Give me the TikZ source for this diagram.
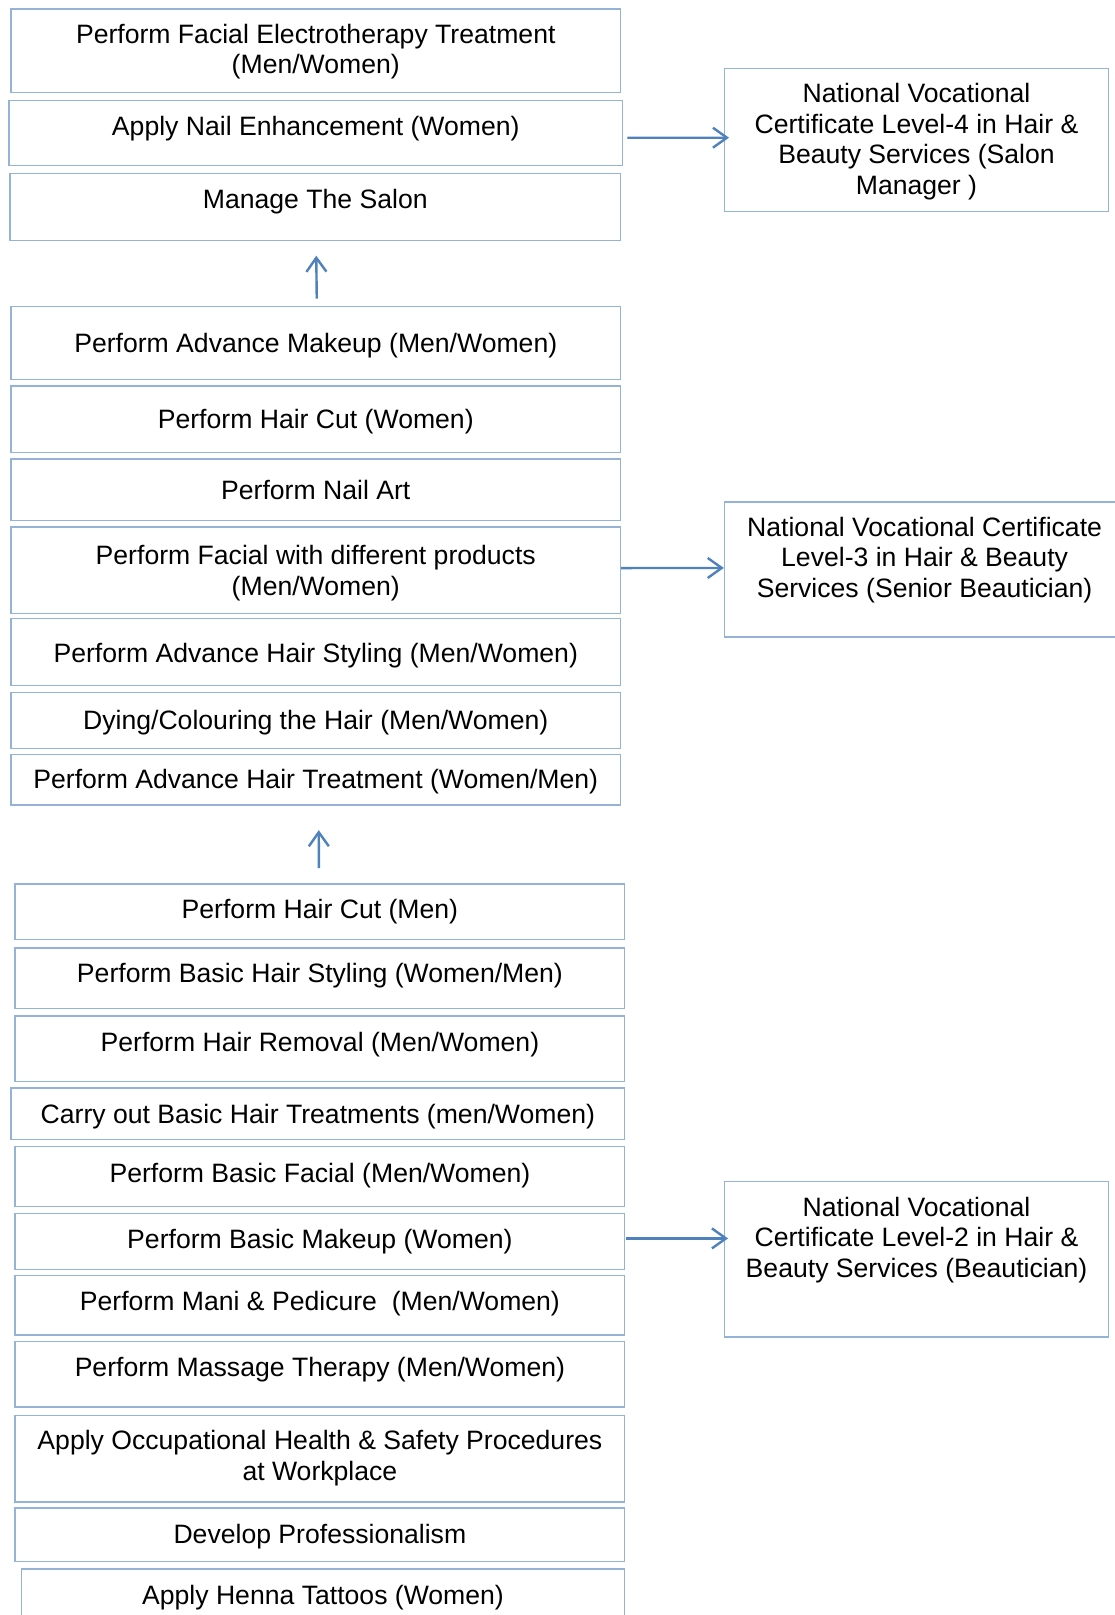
\documentclass[tikz,border=0pt]{standalone}
\usepackage{fontspec}
\setmainfont{Liberation Sans}
\usetikzlibrary{arrows.meta,calc}
\definecolor{boxblue}{RGB}{149,179,215}
\definecolor{arrblue}{RGB}{79,129,189}
\tikzset{
  box/.style={draw=boxblue, line width=1.4pt, fill=white, inner sep=0pt},
  txt/.style={inner sep=0pt, align=center, font=\fontsize{26.6}{30.6}\selectfont, text=black},
  arr/.style={draw=arrblue, line width=2.4pt, -{Straight Barb[length=14pt,width=20pt,line width=2.4pt]}}
}
% name, x1, y1, x2, y2, text centre y, text
\newcommand\bx[7]{%
  \node[box, anchor=north west, minimum width={(#4-#2)*1pt}, minimum height={(#5-#3)*1pt}] (#1) at (#2,#3) {};
  \node[txt] (#1t) at (#1.north |- 0,#6) {#7};
}
\begin{document}
\begin{tikzpicture}[x=1pt,y=-1pt]
\useasboundingbox (0,0) rectangle (1115,1615);
\fill[white] (0,0) rectangle (1115,1615);
\clip (0,0) rectangle (1115,1615);

% Level 4 group
\bx{b1}{10.3}{8.2}{619.8}{91.6}{52.3}{\strut Perform Facial Electrotherapy Treatment\\\strut (Men/Women)}
\bx{b2}{8.2}{99.9}{621.9}{164.7}{129.0}{\strut Apply Nail Enhancement (Women)}
\bx{b3}{9.3}{173}{619.8}{239.9}{202.1}{\strut Manage The Salon}

% Level 3 group
\bx{b4}{10.3}{305.8}{619.8}{378.9}{346.3}{\strut Perform Advance Makeup (Men/Women)}
\bx{b5}{10.3}{385.1}{619.8}{452}{422.4}{\strut Perform Hair Cut (Women)}
\bx{b6}{10.3}{458.2}{619.8}{520}{493.5}{\strut Perform Nail Art}
\bx{b7}{10.3}{526.1}{619.8}{612.6}{573.8}{\strut Perform Facial with different products\\\strut (Men/Women)}
\bx{b8}{10.3}{617.8}{619.8}{684.7}{656.2}{\strut Perform Advance Hair Styling (Men/Women)}
\bx{b9}{10.3}{691.9}{619.8}{747.5}{723.1}{\strut Dying/Colouring the Hair (Men/Women)}
\bx{b10}{10.3}{753.7}{619.8}{804.1}{782.8}{\strut Perform Advance Hair Treatment (Women/Men)}

% Level 2 group
\bx{b11}{14.4}{883.4}{624}{939}{912.5}{\strut Perform Hair Cut (Men)}
\bx{b12}{14.4}{947.2}{624}{1008}{976.4}{\strut Perform Basic Hair Styling (Women/Men)}
\bx{b13}{14.4}{1015.2}{624}{1081}{1045.4}{\strut Perform Hair Removal (Men/Women)}
\bx{b14}{10.3}{1087.3}{624}{1138.8}{1117.4}{\strut Carry out Basic Hair Treatments (men/Women)}
\bx{b15}{14.4}{1146}{624}{1205.7}{1176.1}{\strut Perform Basic Facial (Men/Women)}
\bx{b16}{14.4}{1212.9}{624}{1268.5}{1242.0}{\strut Perform Basic Makeup (Women)}
\bx{b17}{14.4}{1274.7}{624}{1334.4}{1304.8}{\strut Perform Mani \& Pedicure\ \ (Men/Women)}
\bx{b18}{14.4}{1340.6}{624}{1406.4}{1370.7}{\strut Perform Massage Therapy (Men/Women)}
\bx{b19}{14.4}{1414.7}{624}{1501.2}{1458.8}{\strut Apply Occupational Health \& Safety Procedures\\\strut at Workplace}
\bx{b20}{14.4}{1507.4}{624}{1560.9}{1537.5}{\strut Develop Professionalism}
\bx{b21}{20.6}{1568.1}{624}{1645}{1598.3}{\strut Apply Henna Tattoos (Women)}

% Certificates
\bx{r4}{723.8}{68}{1107.8}{211}{142.4}{\strut National Vocational\\\strut Certificate Level-4 in Hair \&\\\strut Beauty Services (Salon\\\strut Manager )}
\bx{r3}{723.8}{501.4}{1124}{636.3}{560.8}{\strut National Vocational Certificate\\\strut Level-3 in Hair \& Beauty\\\strut Services (Senior Beautician)}
\bx{r2}{723.8}{1181}{1107.8}{1336.4}{1240.6}{\strut National Vocational\\\strut Certificate Level-2 in Hair \&\\\strut Beauty Services (Beautician)}

% Connectors
\draw[arr] ([yshift=7.2pt,xshift=1pt]b4.north) -- ([yshift=-14.4pt,xshift=1pt]b3.south);
\draw[arr] ([yshift=15.4pt,xshift=-1pt]b11.north) -- ([yshift=-24.7pt,xshift=3pt]b10.south);
\draw[arr] ([xshift=4pt,yshift=-4.7pt]b2.east) -- ([xshift=5.2pt,yshift=2.5pt]r4.west);
\draw[arr] ([yshift=2pt]b7.east) -- ([yshift=1.6pt]r3.west);
\draw[arr] ([xshift=1pt,yshift=3pt]b16.east) -- ([xshift=4.2pt,yshift=21pt]r2.west);
\end{tikzpicture}
\end{document}
